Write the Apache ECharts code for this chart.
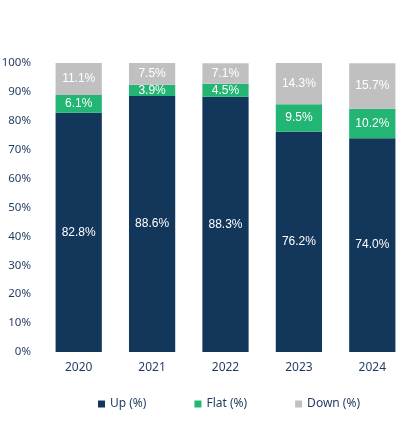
<!DOCTYPE html>
<html>
<head>
<meta charset="utf-8">
<script src="https://cdn.jsdelivr.net/npm/echarts@6/dist/echarts.min.js"></script>
<style>
  html, body { margin: 0; padding: 0; background: #fff; }
  #chart { width: 409px; height: 430px; }
</style>
</head>
<body>
<div id="chart"></div>
<script>
// data
var years = ['2020', '2021', '2022', '2023', '2024'];
var upPct = [82.8, 88.6, 88.3, 76.2, 74.0];
var flatPct = [6.1, 3.9, 4.5, 9.5, 10.2];
var downPct = [11.1, 7.5, 7.1, 14.3, 15.7];

var axisColor = '#1f3a5f';

function barSeries(name, data, color) {
  return {
    name: name,
    type: 'bar',
    stack: 'total',
    barWidth: '63%',
    data: data,
    itemStyle: { color: color },
    label: {
      show: true,
      position: 'inside',
      color: '#fff',
      fontSize: 12,
      fontFamily: 'Liberation Sans',
      formatter: function (p) { return p.value.toFixed(1) + '%'; }
    }
  };
}

var myChart = echarts.init(document.getElementById('chart'));
myChart.setOption({
  animation: false,
  grid: { left: 42, right: 0, top: 63, bottom: 78, outerBoundsMode: 'none' },
  xAxis: {
    type: 'category',
    data: years,
    axisLine: { show: false },
    axisTick: { show: false },
    axisLabel: { color: axisColor, fontSize: 12, fontFamily: 'Noto Sans', margin: 10 }
  },
  yAxis: {
    type: 'value',
    min: 0,
    max: 100,
    interval: 10,
    splitLine: { show: false },
    axisLine: { show: false },
    axisTick: { show: false },
    axisLabel: {
      color: axisColor, fontSize: 11.5, fontFamily: 'Noto Sans', margin: 11,
      formatter: '{value}%'
    }
  },
  legend: {
    bottom: 15,
    left: 93,
    itemWidth: 7,
    itemHeight: 7,
    itemGap: 48,
    icon: 'rect',
    textStyle: { color: axisColor, fontSize: 12, fontFamily: 'Noto Sans' },
    data: ['Up (%)', 'Flat (%)', 'Down (%)']
  },
  series: [
    barSeries('Up (%)', upPct, '#13365b'),
    barSeries('Flat (%)', flatPct, '#22b574'),
    barSeries('Down (%)', downPct, '#c0c0c0')
  ]
});
</script>
</body>
</html>
